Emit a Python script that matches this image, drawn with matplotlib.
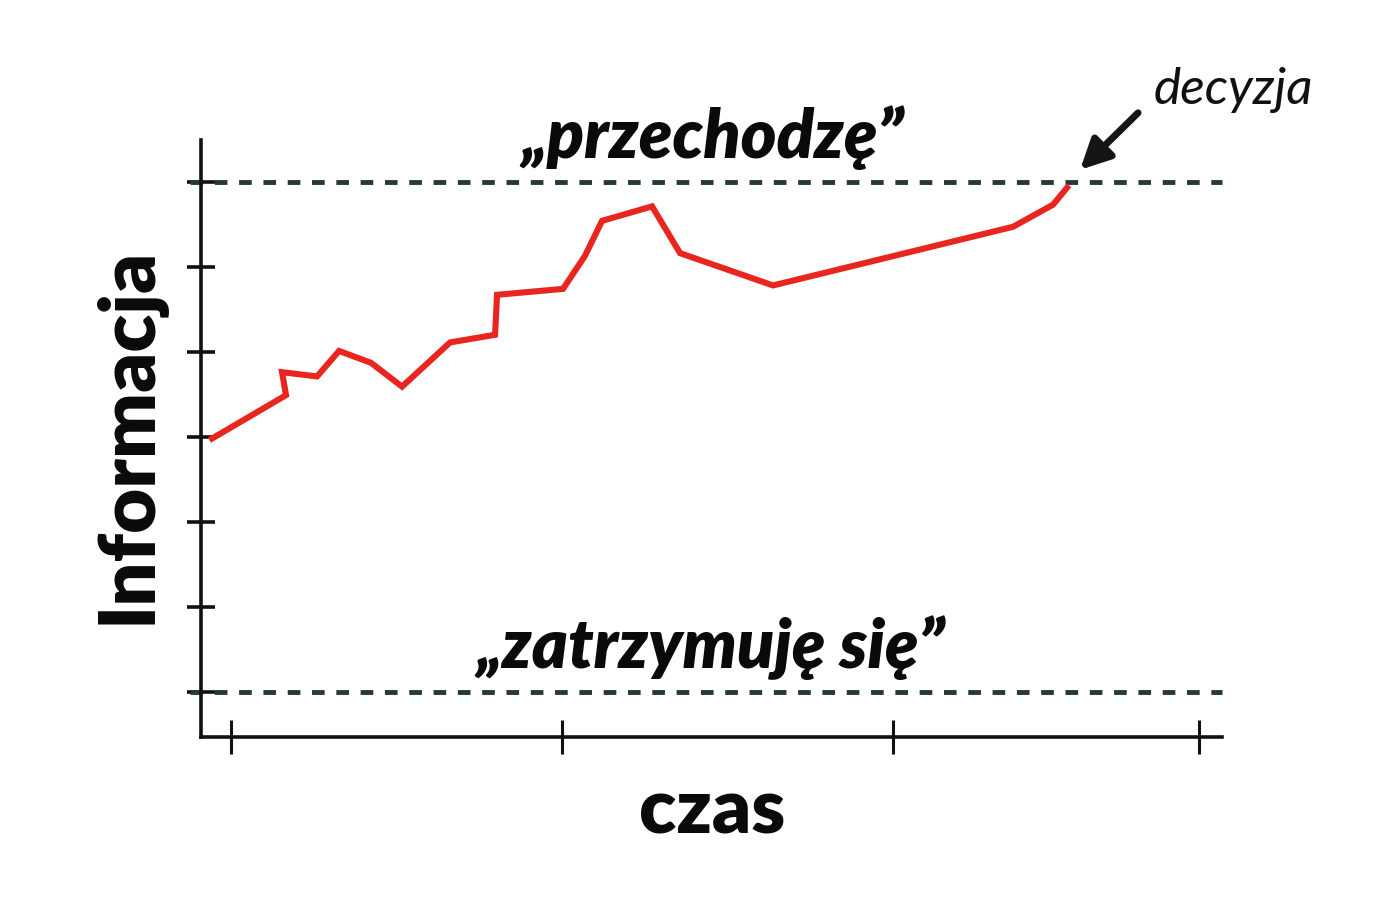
import matplotlib.pyplot as plt

# czas (time) and informacja (accumulated evidence)
czas = [0.11, 0.85, 0.81, 1.16, 1.38, 1.70, 2.01, 2.49, 2.94, 2.96, 3.62,
        3.84, 4.01, 4.51, 4.79, 5.72, 8.12, 8.52, 8.66]
informacja = [2.98, 3.49, 3.76, 3.71, 4.01, 3.87, 3.59, 4.11, 4.20, 4.67, 4.74,
              5.13, 5.54, 5.71, 5.16, 4.78, 5.47, 5.73, 5.93]
prog_gorny = 6
prog_dolny = 0
x_ticks = [0.30, 3.61, 6.92, 9.98]
y_ticks = [0, 1, 2, 3, 4, 5, 6]

fig = plt.figure(figsize=(14, 9), dpi=100)
ax = fig.add_axes([0.1436, 0.1811, 0.7293, 0.6633])
ax.set_xlim(0, 10.21)
ax.set_ylim(-0.53, 6.49)

for s in ['top', 'right']:
    ax.spines[s].set_visible(False)
for s in ['left', 'bottom']:
    ax.spines[s].set_linewidth(2.6)
    ax.spines[s].set_color('#111111')

ax.set_xticks(x_ticks)
ax.set_yticks(y_ticks)
ax.set_xticklabels([])
ax.set_yticklabels([])
ax.tick_params(axis='y', direction='inout', length=20, width=2.6, color='#111111')
ax.tick_params(axis='x', direction='inout', length=25, width=2.2, color='#111111')

dash = dict(color='#263a33', lw=3.5, linestyle=(0, (2.6, 2.4)), clip_on=False)
ax.plot([-0.11, 10.21], [prog_gorny, prog_gorny], **dash)
ax.plot([-0.11, 10.21], [prog_dolny, prog_dolny], **dash)

ax.plot(czas, informacja, color='#e8261f', lw=4.4, solid_joinstyle='miter')

ax.annotate('', xy=(8.79, 6.14), xytext=(9.37, 6.81), annotation_clip=False,
            arrowprops=dict(arrowstyle='-|>', lw=5, color='#151515', mutation_scale=45,
                            shrinkA=0, shrinkB=0))

bold_font = dict(family=['Lato', 'DejaVu Sans'], weight='heavy', style='italic', color='#0a0a0a')
ax.text(5.11, 6.52, '\u201eprzechodz\u0119\u201d', fontsize=49, ha='center', va='center', **bold_font)
ax.text(5.09, 0.52, '\u201ezatrzymuj\u0119 si\u0119\u201d', fontsize=49, ha='center', va='center', **bold_font)
ax.text(10.32, 7.08, 'decyzja', fontsize=37, ha='center', va='center',
        family=['Lato', 'DejaVu Sans'], weight='normal', style='italic', color='#111111')

fig.text(712 / 1400, 1 - 812 / 900, 'czas', fontsize=55, ha='center', va='center',
         family=['Lato', 'DejaVu Sans'], weight='heavy', color='#0a0a0a')
fig.text(128 / 1400, 1 - 435 / 900, 'Informacja', fontsize=56, ha='center', va='center',
         rotation=90, family=['Lato', 'DejaVu Sans'], weight='heavy', color='#0a0a0a')

fig.savefig('out.png', dpi=100)
